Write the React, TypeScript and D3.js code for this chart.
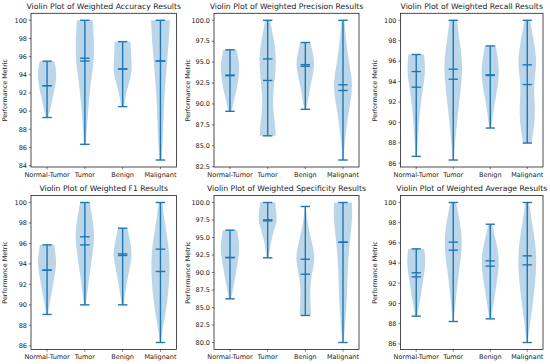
import * as d3 from "d3";

// categories shared by every panel
const categories = ["Normal-Tumor", "Tumor", "Benign", "Malignant"];

// each violin: extrema, mean, median and a width profile [value, relative width]
const accMins = [89.3, 86.35, 90.5, 84.62];
const accMaxs = [95.5, 100, 97.65, 100];
const accMeans = [92.8, 95.52, 94.64, 95.52];
const accMedians = [92.8, 95.82, 94.64, 95.52];
const accShapes = [
  [[89.3, 0.1], [90, 0.3], [91, 0.5], [92, 0.7], [93, 0.9], [94, 1.0], [95, 0.9], [95.5, 0.75]],
  [[86.35, 0.08], [88, 0.2], [90, 0.35], [92, 0.5], [94, 0.75], [96, 1.0], [98, 0.95], [100, 0.85]],
  [[90.5, 0.15], [91.5, 0.3], [92.5, 0.5], [93.5, 0.8], [94.5, 1.0], [96, 0.9], [97.65, 0.85]],
  [[84.62, 0.1], [86, 0.2], [88, 0.3], [90, 0.35], [92, 0.45], [94, 0.6], [96, 0.75], [98, 0.9], [100, 1.0]],
];
const accTicks = [84, 86, 88, 90, 92, 94, 96, 98, 100];

const precMins = [89.12, 86.19, 89.36, 83.3];
const precMaxs = [96.47, 100, 97.35, 100];
const precMeans = [93.46, 95.38, 94.7, 92.29];
const precMedians = [93.38, 92.81, 94.5, 91.61];
const precShapes = [
  [[89.12, 0.15], [90, 0.35], [91, 0.55], [92, 0.75], [93, 0.9], [94.3, 1.0], [95.5, 0.9], [96.47, 0.7]],
  [[86.19, 0.85], [87.5, 0.8], [89, 0.6], [90.5, 0.55], [92, 0.65], [94, 0.85], [96, 0.9], [98, 0.6], [100, 0.25]],
  [[89.36, 0.1], [90.5, 0.3], [92, 0.5], [93.5, 0.8], [94.8, 1.0], [96, 0.8], [97.35, 0.55]],
  [[83.3, 0.05], [85, 0.15], [87, 0.35], [89, 0.6], [91, 0.9], [92.5, 1.0], [94, 0.8], [96, 0.5], [98, 0.3], [100, 0.15]],
];
const precTicks = [82.5, 85, 87.5, 90, 92.5, 95, 97.5, 100];

const recMins = [86.68, 86.32, 89.45, 87.98];
const recMaxs = [96.65, 100, 97.49, 100];
const recMeans = [94.98, 95.21, 94.66, 95.64];
const recMedians = [93.45, 94.23, 94.6, 93.71];
const recShapes = [
  [[86.68, 0.08], [88, 0.15], [90, 0.3], [92, 0.5], [93.5, 0.75], [95, 1.0], [96.65, 0.85]],
  [[86.32, 0.05], [88, 0.2], [90, 0.4], [92, 0.65], [94, 0.9], [95.5, 1.0], [97, 0.85], [98.5, 0.6], [100, 0.4]],
  [[89.45, 0.1], [90.5, 0.25], [92, 0.5], [93.5, 0.8], [95, 1.0], [96.3, 0.8], [97.49, 0.6]],
  [[87.98, 0.45], [89, 0.65], [90.5, 0.85], [92, 0.8], [93.5, 0.7], [95, 0.9], [96.3, 1.0], [98, 0.7], [100, 0.3]],
];
const recTicks = [86, 88, 90, 92, 94, 96, 98, 100];

const f1Mins = [89.06, 90.0, 90.0, 86.32];
const f1Maxs = [95.86, 100, 97.49, 100];
const f1Means = [93.39, 96.65, 94.98, 95.44];
const f1Medians = [93.39, 95.86, 94.82, 93.26];
const f1Shapes = [
  [[89.06, 0.08], [90, 0.25], [91, 0.45], [92.5, 0.75], [94, 1.0], [95, 0.9], [95.86, 0.75]],
  [[90, 0.1], [91.5, 0.3], [93, 0.5], [94.5, 0.75], [96, 0.95], [97, 1.0], [98.5, 0.8], [100, 0.5]],
  [[90, 0.1], [91, 0.25], [92.5, 0.5], [94, 0.85], [95, 1.0], [96.2, 0.8], [97.49, 0.5]],
  [[86.32, 0.05], [88, 0.3], [90, 0.7], [92, 0.9], [94, 1.0], [96, 0.85], [98, 0.45], [100, 0.2]],
];
const f1Ticks = [86, 88, 90, 92, 94, 96, 98, 100];

const specMins = [86.24, 92.1, 83.86, 80.0];
const specMaxs = [96.05, 100, 99.43, 100];
const specMeans = [92.14, 97.52, 91.9, 94.33];
const specMedians = [92.14, 97.38, 89.76, 94.33];
const specShapes = [
  [[86.24, 0.1], [87.5, 0.3], [89, 0.5], [90.5, 0.7], [92, 0.9], [93.5, 1.0], [95, 0.9], [96.05, 0.75]],
  [[92.1, 0.1], [93.5, 0.25], [95, 0.45], [96.5, 0.8], [97.5, 1.0], [98.8, 0.9], [100, 0.8]],
  [[83.86, 0.6], [85.5, 0.55], [87.5, 0.5], [89.5, 0.65], [91, 0.9], [92.5, 1.0], [94, 0.75], [96, 0.4], [97.5, 0.2], [99.43, 0.05]],
  [[80, 0.05], [82, 0.2], [84, 0.3], [86, 0.4], [88, 0.45], [90, 0.5], [92, 0.55], [94, 0.7], [96, 0.85], [98, 1.0], [100, 0.95]],
];
const specTicks = [80, 82.5, 85, 87.5, 90, 92.5, 95, 97.5, 100];

const avgMins = [88.75, 88.22, 88.48, 86.14];
const avgMaxs = [95.41, 100, 97.85, 100];
const avgMeans = [93.04, 96.07, 94.22, 94.72];
const avgMedians = [92.64, 95.28, 93.7, 93.83];
const avgShapes = [
  [[88.75, 0.1], [89.5, 0.25], [90.5, 0.45], [92, 0.7], [93.5, 0.95], [94.5, 1.0], [95.41, 0.85]],
  [[88.22, 0.05], [90, 0.25], [92, 0.45], [94, 0.75], [96, 1.0], [98, 0.75], [100, 0.3]],
  [[88.48, 0.1], [90, 0.35], [92, 0.7], [94, 1.0], [95.5, 0.8], [97, 0.4], [97.85, 0.2]],
  [[86.14, 0.05], [88, 0.3], [90, 0.6], [92, 0.85], [94, 1.0], [96, 0.9], [98, 0.5], [100, 0.2]],
];
const avgTicks = [86, 88, 90, 92, 94, 96, 98, 100];

const panels = [
  { title: "Violin Plot of Weighted Accuracy Results", mins: accMins, maxs: accMaxs, means: accMeans, medians: accMedians, shapes: accShapes, ticks: accTicks, dec: 0 },
  { title: "Violin Plot of Weighted Precision Results", mins: precMins, maxs: precMaxs, means: precMeans, medians: precMedians, shapes: precShapes, ticks: precTicks, dec: 1 },
  { title: "Violin Plot of Weighted Recall Results", mins: recMins, maxs: recMaxs, means: recMeans, medians: recMedians, shapes: recShapes, ticks: recTicks, dec: 0 },
  { title: "Violin Plot of Weighted F1 Results", mins: f1Mins, maxs: f1Maxs, means: f1Means, medians: f1Medians, shapes: f1Shapes, ticks: f1Ticks, dec: 0 },
  { title: "Violin Plot of Weighted Specificity Results", mins: specMins, maxs: specMaxs, means: specMeans, medians: specMedians, shapes: specShapes, ticks: specTicks, dec: 1 },
  { title: "Violin Plot of Weighted Average Results", mins: avgMins, maxs: avgMaxs, means: avgMeans, medians: avgMedians, shapes: avgShapes, ticks: avgTicks, dec: 0 },
];

// axes boxes (px) for the 2x3 grid
const colLefts = [31, 214, 400.5];
const colRights = [176.5, 359, 543];
const rowTops = [13.3, 195.5];
const rowBottoms = [167, 349.5];

const BLUE = "#1f77b4";
const FONT = "DejaVu Sans";

function Panel(props: { p: (typeof panels)[number]; left: number; right: number; top: number; bottom: number }) {
  const { p, left, right, top, bottom } = props;

  const x = d3.scaleLinear().domain([0.575, 4.425]).range([left, right]);
  const lo = d3.min(p.mins) as number;
  const hi = d3.max(p.maxs) as number;
  const pad = (hi - lo) * 0.05;
  const y = d3.scaleLinear().domain([lo - pad, hi + pad]).range([bottom, top]);

  const halfW = x(1.25) - x(1);
  const capW = x(1.125) - x(1);

  return (
    <g>
      {/* violin bodies */}
      {p.shapes.map((shape, i) => {
        const cx = x(i + 1);
        const area = d3
          .area<number[]>()
          .y((d) => y(d[0]))
          .x0((d) => cx - d[1] * halfW)
          .x1((d) => cx + d[1] * halfW)
          .curve(d3.curveBasis);
        return <path key={"b" + i} d={area(shape) || ""} fill={BLUE} fillOpacity={0.3} stroke="none" />;
      })}

      {/* extrema, mean, median lines */}
      {categories.map((c, i) => {
        const cx = x(i + 1);
        const marks = [p.mins[i], p.maxs[i], p.means[i], p.medians[i]];
        return (
          <g key={"l" + c} stroke={BLUE} strokeWidth={1.4}>
            <line x1={cx} x2={cx} y1={y(p.mins[i])} y2={y(p.maxs[i])} />
            {marks.map((v, k) => (
              <line key={k} x1={cx - capW} x2={cx + capW} y1={y(v)} y2={y(v)} />
            ))}
          </g>
        );
      })}

      {/* frame */}
      <rect x={left} y={top} width={right - left} height={bottom - top} fill="none" stroke="#222" strokeWidth={0.8} />

      {/* y ticks */}
      {p.ticks.map((t) => (
        <g key={"y" + t}>
          <line x1={left - 2.2} x2={left} y1={y(t)} y2={y(t)} stroke="#222" strokeWidth={0.6} />
          <text x={left - 4} y={y(t)} dy="0.35em" textAnchor="end" fontSize={6.5} fontFamily={FONT} fill="#222">
            {t.toFixed(p.dec)}
          </text>
        </g>
      ))}

      {/* x ticks */}
      {categories.map((c, i) => (
        <g key={"x" + c}>
          <line x1={x(i + 1)} x2={x(i + 1)} y1={bottom} y2={bottom + 2.2} stroke="#222" strokeWidth={0.6} />
          <text x={x(i + 1)} y={bottom + 9.5} textAnchor="middle" fontSize={6.5} fontFamily={FONT} fill="#222">
            {c}
          </text>
        </g>
      ))}

      {/* y label */}
      <text
        transform={`translate(${left - 24}, ${(top + bottom) / 2}) rotate(-90)`}
        textAnchor="middle"
        fontSize={6.4}
        fontFamily={FONT}
        fill="#222"
      >
        Performance Metric
      </text>

      {/* title */}
      <text x={(left + right) / 2} y={top - 4.3} textAnchor="middle" fontSize={7.7} fontFamily={FONT} fill="#222">
        {p.title}
      </text>
    </g>
  );
}

export default function App() {
  return (
    <div style={{ position: "absolute", left: 0, top: 0 }}>
      <svg width={550} height={364} style={{ display: "block", background: "white" }}>
        {panels.map((p, i) => (
          <Panel
            key={p.title}
            p={p}
            left={colLefts[i % 3]}
            right={colRights[i % 3]}
            top={rowTops[Math.floor(i / 3)]}
            bottom={rowBottoms[Math.floor(i / 3)]}
          />
        ))}
      </svg>
    </div>
  );
}
